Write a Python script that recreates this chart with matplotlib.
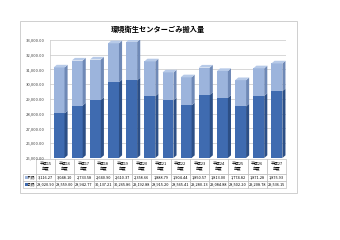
import matplotlib.pyplot as plt
from matplotlib.patches import Polygon, Rectangle
from matplotlib.ticker import FuncFormatter

plt.rcParams['font.family'] = ['Noto Sans CJK JP', 'DejaVu Sans']

years = ["平成15\n年度", "平成16\n年度", "平成17\n年度", "平成18\n年度", "平成19\n年度",
         "平成20\n年度", "平成21\n年度", "平成22\n年度", "平成23\n年度", "平成24\n年度",
         "平成25\n年度", "平成26\n年度", "平成27\n年度"]
upper_name = "不燃"
lower_name = "可燃"
upper_vals = [3116.27, 3048.10, 2733.58, 2640.90, 2610.37, 2358.66, 1888.79,
              1904.44, 1850.57, 1813.00, 1774.82, 1871.28, 1875.93]
lower_vals = [28020.90, 28559.00, 28942.77, 30137.21, 30265.86, 29192.88, 28915.20,
              28565.41, 29280.13, 29084.88, 28502.20, 29208.78, 29536.15]

dark = ("#3f6bb0", "#2c4f86", "#5a84c4")
light = ("#9cb4dc", "#6f89b6", "#b7cae8")
base = 25000

fig = plt.figure(figsize=(3.4, 2.4), dpi=100)
fig.patches.append(Rectangle((20 / 340, 1 - 193 / 240), 277 / 340, 172 / 240,
                             transform=fig.transFigure, fill=False,
                             edgecolor="#c8c8c8", linewidth=0.6))
fig.text(158 / 340, 1 - 29 / 240, "環境衛生センターごみ搬入量", ha="center", va="center",
         fontsize=5.2, fontweight="bold")

ax = fig.add_axes([50 / 340, 1 - 158 / 240, 236 / 340, 118 / 240])
ax.set_xlim(-0.5, len(years) - 0.5)
ax.set_ylim(25000, 33000)
ax.set_yticks(range(25000, 33001, 1000))
ax.yaxis.set_major_formatter(FuncFormatter(lambda v, p: f"{v:,.2f}"))
ax.tick_params(axis="y", labelsize=3.0, length=0, pad=4, labelcolor="#404040")
ax.set_xticks([])
ax.grid(axis="y", color="#c8c8c8", linewidth=0.5)
ax.set_axisbelow(True)
for s in ["top", "right", "bottom"]:
    ax.spines[s].set_visible(False)
ax.spines["left"].set_color("#c8c8c8")
ax.spines["left"].set_linewidth(0.5)

w, dx, dy = 0.6, 0.17, 180


def box(x, y0, y1, cols, top):
    l, r = x - w / 2, x + w / 2
    ax.add_patch(Rectangle((l, y0), w, y1 - y0, facecolor=cols[0], edgecolor="none", zorder=3))
    ax.add_patch(Polygon([(r, y0), (r + dx, y0 + dy), (r + dx, y1 + dy), (r, y1)],
                         facecolor=cols[1], edgecolor="none", zorder=3))
    if top:
        ax.add_patch(Polygon([(l, y1), (l + dx, y1 + dy), (r + dx, y1 + dy), (r, y1)],
                             facecolor=cols[2], edgecolor="none", zorder=3))


for i, (lo, up) in enumerate(zip(lower_vals, upper_vals)):
    box(i, base, lo, dark, False)
    box(i, lo, lo + up, light, True)

tbl = ax.table(cellText=[[f"{v:,.2f}" for v in upper_vals], [f"{v:,.2f}" for v in lower_vals]],
               rowLabels=["    " + upper_name + ":", "    " + lower_name + ":"],
               colLabels=years, colWidths=[1 / len(years)] * len(years),
               cellLoc="center", bbox=[-0.06, -0.255, 1.06, 0.245])
tbl.auto_set_font_size(False)
for (r, c), cell in tbl.get_celld().items():
    cell.set_edgecolor("#b0b0b0")
    cell.set_linewidth(0.4)
    cell.get_text().set_fontsize(2.8)
    cell.set_height(2.0 if r == 0 else 1.0)
    if c == -1:
        cell.get_text().set_ha("left")
        cell.PAD = 0.02

fig.canvas.draw()
renderer = fig.canvas.get_renderer()
for r, col in [(1, light[0]), (2, dark[0])]:
    bb = tbl[(r, -1)].get_window_extent(renderer)
    sz = 3
    fig.patches.append(Rectangle(((bb.x0 + 2) / 340, (bb.y0 + bb.height / 2 - sz / 2) / 240),
                                 sz / 340, sz / 240, transform=fig.transFigure,
                                 facecolor=col, edgecolor="none"))

fig.savefig("out.png", dpi=100)
